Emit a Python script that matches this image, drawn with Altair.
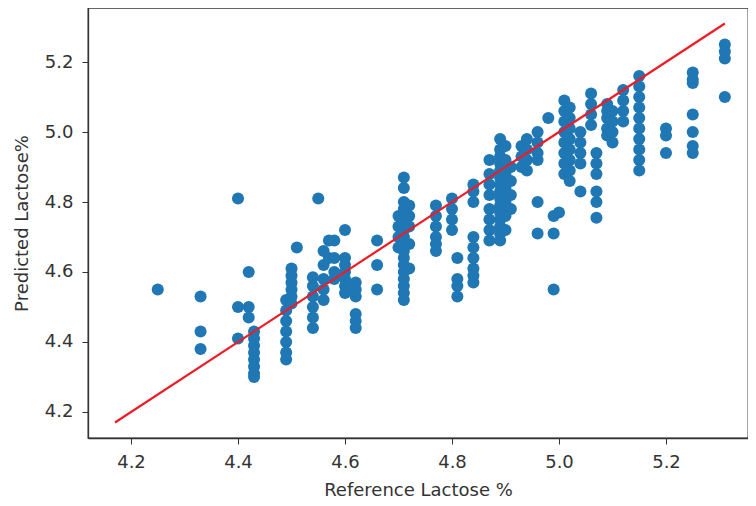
import altair as alt
import pandas as pd

# Scatter values (reference vs predicted lactose %)
x_ref = [
    4.25,
    4.33, 4.33, 4.33,
    4.40, 4.40, 4.40,
    4.42, 4.42, 4.42,
    4.43, 4.43, 4.43, 4.43, 4.43, 4.43, 4.43, 4.43,
    4.49, 4.49, 4.49, 4.49, 4.49, 4.49, 4.49,
    4.50, 4.50, 4.50, 4.50, 4.50, 4.50,
    4.51,
    4.54, 4.54, 4.54, 4.54, 4.54, 4.54,
    4.55,
    4.56, 4.56, 4.56, 4.56, 4.56,
    4.57, 4.57,
    4.58, 4.58, 4.58, 4.58,
    4.60, 4.60, 4.60, 4.60, 4.60, 4.60, 4.60,
    4.62, 4.62, 4.62, 4.62, 4.62, 4.62,
    4.66, 4.66, 4.66,
    4.70, 4.70, 4.70, 4.70,
    4.71, 4.71, 4.71, 4.71, 4.71, 4.71, 4.71, 4.71, 4.71, 4.71, 4.71, 4.71, 4.71, 4.71, 4.71, 4.71, 4.71,
    4.72, 4.72, 4.72, 4.72, 4.72,
    4.77, 4.77, 4.77, 4.77, 4.77, 4.77,
    4.80, 4.80, 4.80, 4.80,
    4.81, 4.81, 4.81, 4.81,
    4.84, 4.84, 4.84, 4.84, 4.84, 4.84, 4.84, 4.84, 4.84,
    4.87, 4.87, 4.87, 4.87, 4.87, 4.87, 4.87, 4.87,
    4.89, 4.89, 4.89, 4.89, 4.89, 4.89, 4.89, 4.89, 4.89, 4.89, 4.89, 4.89, 4.89, 4.89, 4.89,
    4.90, 4.90, 4.90, 4.90, 4.90, 4.90, 4.90,
    4.91, 4.91, 4.91, 4.91,
    4.93, 4.93, 4.93,
    4.94, 4.94, 4.94, 4.94,
    4.96, 4.96, 4.96, 4.96, 4.96, 4.96,
    4.98,
    4.99, 4.99, 4.99,
    5.00,
    5.01, 5.01, 5.01, 5.01, 5.01, 5.01, 5.01, 5.01,
    5.02, 5.02, 5.02, 5.02, 5.02, 5.02, 5.02, 5.02,
    5.04, 5.04, 5.04, 5.04, 5.04,
    5.06, 5.06, 5.06, 5.06,
    5.07, 5.07, 5.07, 5.07, 5.07, 5.07,
    5.09, 5.09, 5.09, 5.09, 5.09,
    5.10, 5.10, 5.10, 5.10,
    5.12, 5.12, 5.12, 5.12,
    5.15, 5.15, 5.15, 5.15, 5.15, 5.15, 5.15, 5.15, 5.15, 5.15,
    5.20, 5.20, 5.20,
    5.25, 5.25, 5.25, 5.25, 5.25, 5.25, 5.25,
    5.31, 5.31, 5.31, 5.31,
]
y_pred = [
    4.55,
    4.53, 4.43, 4.38,
    4.81, 4.50, 4.41,
    4.60, 4.50, 4.47,
    4.43, 4.41, 4.39, 4.37, 4.35, 4.33, 4.31, 4.30,
    4.52, 4.49, 4.46, 4.43, 4.40, 4.37, 4.35,
    4.61, 4.59, 4.57, 4.55, 4.53, 4.51,
    4.67,
    4.585, 4.56, 4.53, 4.50, 4.47, 4.44,
    4.81,
    4.66, 4.62, 4.58, 4.55, 4.52,
    4.69, 4.64,
    4.69, 4.64, 4.60, 4.58,
    4.72, 4.64, 4.62, 4.60, 4.58, 4.56, 4.54,
    4.57, 4.55, 4.53, 4.48, 4.46, 4.44,
    4.69, 4.62, 4.55,
    4.76, 4.73, 4.70, 4.67,
    4.87, 4.84, 4.80, 4.78, 4.76, 4.74, 4.72, 4.70, 4.68, 4.66, 4.64, 4.62, 4.60, 4.58, 4.56, 4.54, 4.52,
    4.79, 4.76, 4.73, 4.68, 4.61,
    4.79, 4.76, 4.73, 4.70, 4.68, 4.66,
    4.81, 4.78, 4.75, 4.72,
    4.64, 4.58, 4.56, 4.53,
    4.85, 4.83, 4.80, 4.70, 4.67, 4.64, 4.61, 4.59, 4.57,
    4.92, 4.88, 4.85, 4.82, 4.78, 4.75, 4.72, 4.69,
    4.98, 4.95, 4.93, 4.91, 4.89, 4.87, 4.85, 4.83, 4.81, 4.79, 4.77, 4.75, 4.73, 4.71, 4.69,
    4.96, 4.92, 4.88, 4.84, 4.80, 4.76, 4.72,
    4.90, 4.86, 4.82, 4.78,
    4.96, 4.93, 4.90,
    4.98, 4.95, 4.92, 4.89,
    5.00, 4.97, 4.94, 4.92, 4.80, 4.71,
    5.04,
    4.76, 4.71, 4.55,
    4.77,
    5.09, 5.06, 5.03, 5.00, 4.97, 4.94, 4.91, 4.88,
    5.07, 5.04, 5.01, 4.98, 4.95, 4.92, 4.89, 4.86,
    5.00, 4.97, 4.94, 4.91, 4.83,
    5.11, 5.08, 5.05, 5.02,
    4.94, 4.91, 4.88, 4.83, 4.80, 4.755,
    5.08, 5.06, 5.04, 5.01, 4.99,
    5.06, 5.03, 5.00, 4.97,
    5.12, 5.09, 5.06, 5.03,
    5.16, 5.13, 5.10, 5.07, 5.04, 5.01, 4.98, 4.95, 4.92, 4.89,
    5.01, 4.99, 4.94,
    5.17, 5.15, 5.14, 5.05, 5.00, 4.96, 4.94,
    5.25, 5.23, 5.21, 5.10,
]

# Identity (y = x) reference line
line_x = [4.17, 5.31]
line_y = [4.17, 5.31]

x_ticks = [4.2, 4.4, 4.6, 4.8, 5.0, 5.2]
y_ticks = [4.2, 4.4, 4.6, 4.8, 5.0, 5.2]

pts = pd.DataFrame({"x": x_ref, "y": y_pred})
ln = pd.DataFrame({"x": line_x, "y": line_y})

xs = alt.Scale(domain=[4.1196, 5.3533], nice=False, zero=False)
ys = alt.Scale(domain=[4.1257, 5.3543], nice=False, zero=False)

x_axis = alt.Axis(title="Reference Lactose %", values=x_ticks, format=".1f",
                  grid=False, tickSize=6, labelPadding=9, titlePadding=10)
y_axis = alt.Axis(title="Predicted Lactose%", values=y_ticks, format=".1f",
                  grid=False, tickSize=6, labelPadding=9, titlePadding=13)

scatter = alt.Chart(pts).mark_circle(size=145, color="#1f77b4", opacity=1).encode(
    x=alt.X("x:Q", scale=xs, axis=x_axis),
    y=alt.Y("y:Q", scale=ys, axis=y_axis),
)

line = alt.Chart(ln).mark_line(color="#ee1c25", strokeWidth=2.2).encode(
    x=alt.X("x:Q", scale=xs),
    y=alt.Y("y:Q", scale=ys),
)

chart = (scatter + line).properties(
    width=660, height=430,
    autosize=alt.AutoSizeParams(type="none"),
    padding={"left": 80, "top": 0, "right": 0, "bottom": 60},
).configure_view(
    stroke="#333333", strokeWidth=1.3
).configure_axis(
    labelFont="DejaVu Sans", titleFont="DejaVu Sans",
    labelFontSize=18, titleFontSize=18,
    labelColor="#333333", titleColor="#333333",
    titleFontWeight="normal",
    domainColor="#333333", tickColor="#333333", domainWidth=1.3,
)

chart.save("out.html", embed_options={"renderer": "svg", "actions": False})
